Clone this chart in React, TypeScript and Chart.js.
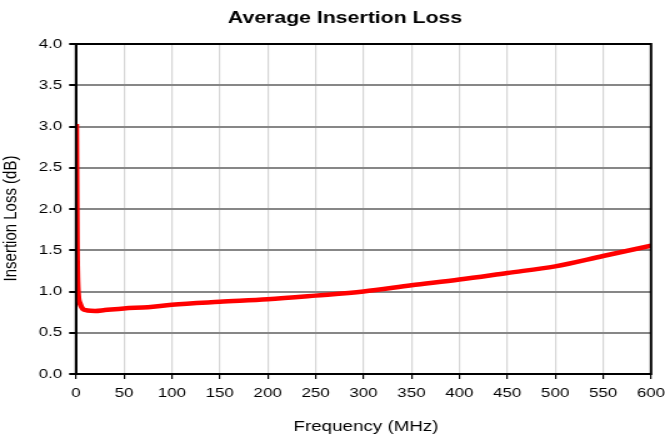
import React, { useEffect, useRef } from "react";
import { Chart, registerables } from "chart.js";

Chart.register(...registerables);

const frequencies = [0.3, 1, 2, 4, 7, 12, 20, 30, 50, 75, 100, 150, 200, 250, 300, 350, 400, 450, 500, 550, 600];
const insertionLoss = [3.03, 1.6, 1.02, 0.86, 0.79, 0.77, 0.765, 0.775, 0.795, 0.81, 0.84, 0.875, 0.905, 0.95, 1.0, 1.075, 1.145, 1.225, 1.305, 1.43, 1.555];
const titleText = "Average Insertion Loss";
const xTitle = "Frequency (MHz)";
const yTitle = "Insertion Loss (dB)";

const FONT = "'Liberation Sans', Arial, sans-serif";
// The reference is horizontally stretched; draw on a narrower canvas and stretch it via CSS.
const SX = 1.25;
const OUT_W = 665;
const OUT_H = 441;
const W = Math.round(OUT_W / SX);

const framePlugin = {
  id: "frame",
  afterDraw(chart: any) {
    const { ctx, chartArea } = chart;
    ctx.save();
    ctx.strokeStyle = "#000";
    ctx.lineWidth = 2;
    ctx.strokeRect(chartArea.left, chartArea.top, chartArea.right - chartArea.left, chartArea.bottom - chartArea.top);
    ctx.fillStyle = "#000";
    ctx.font = `bold 17px ${FONT}`;
    ctx.textAlign = "center";
    ctx.textBaseline = "alphabetic";
    ctx.fillText(titleText, 345 / SX, 23);
    ctx.font = `15px ${FONT}`;
    ctx.textBaseline = "middle";
    ctx.fillText(xTitle, 366 / SX, 427);
    ctx.translate(10.5 / SX, 218.5);
    ctx.rotate(-Math.PI / 2);
    ctx.fillText(yTitle, 0, 0);
    ctx.restore();
  },
};

export default function App() {
  const ref = useRef<HTMLCanvasElement>(null);
  useEffect(() => {
    document.body.style.margin = "0";
    const chart = new Chart(ref.current!, {
      type: "line",
      data: {
        datasets: [
          {
            data: frequencies.map((f, i) => ({ x: f, y: insertionLoss[i] })),
            borderColor: "#ff0000",
            borderWidth: 4.5,
            pointRadius: 0,
            cubicInterpolationMode: "monotone",
            fill: false,
          },
        ],
      },
      options: {
        animation: false,
        responsive: false,
        devicePixelRatio: 1,
        layout: { padding: { top: 44, right: W - 651 / SX, left: 0, bottom: 0 } },
        plugins: { legend: { display: false }, tooltip: { enabled: false } },
        scales: {
          x: {
            type: "linear",
            min: 0,
            max: 600,
            ticks: { stepSize: 50, color: "#000", font: { family: FONT, size: 13.5 }, padding: 6, maxRotation: 0, autoSkip: false },
            grid: { color: "#d6d6d6", lineWidth: 1.2, tickColor: "#000", tickLength: 5, drawOnChartArea: true },
            border: { color: "#000", width: 2 },
            afterFit(scale: any) {
              scale.height = OUT_H - 374;
              scale.paddingLeft = 0;
              scale.paddingRight = 0;
            },
          },
          y: {
            min: 0,
            max: 4,
            ticks: { stepSize: 0.5, color: "#000", font: { family: FONT, size: 13.5 }, padding: 5.5, callback: (v: any) => Number(v).toFixed(1) },
            grid: { color: "#878787", lineWidth: 2, tickColor: "#000", tickLength: 5.5 },
            border: { color: "#000", width: 2 },
            afterFit(scale: any) {
              scale.width = 76 / SX;
              scale.paddingTop = 0;
              scale.paddingBottom = 0;
            },
          },
        },
      },
      plugins: [framePlugin],
    });
    return () => chart.destroy();
  }, []);
  return (
    <canvas
      ref={ref}
      width={W}
      height={OUT_H}
      style={{ display: "block", width: OUT_W + "px", height: OUT_H + "px" }}
    />
  );
}
